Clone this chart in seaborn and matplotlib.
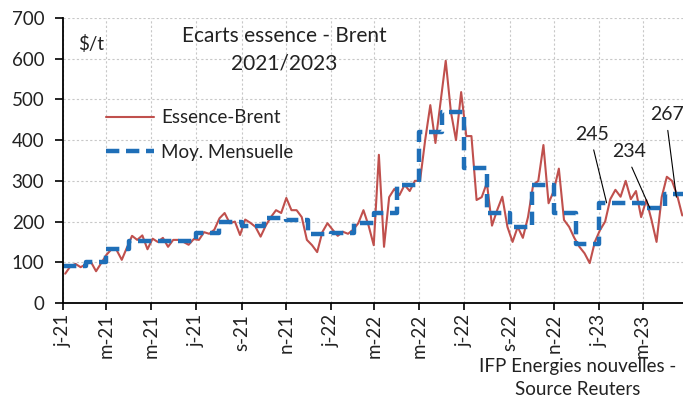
import pandas as pd
import matplotlib
matplotlib.use("Agg")
import matplotlib.pyplot as plt
import matplotlib.dates as mdates
import seaborn as sns

# Ecart essence - Brent ($/t), one value per week (Mondays from 2021-01-04)
spread_2021 = [72, 90, 96, 88,
               95, 101, 78, 98,
               118, 132, 130, 106, 136,
               165, 155, 166, 132,
               158, 150, 160, 138, 155,
               155, 150, 143, 157,
               155, 174, 170, 180,
               208, 221, 196, 200, 167,
               205, 197, 187, 163,
               190, 211, 228, 221,
               258, 228, 228, 211, 155,
               142, 125, 174, 196]
spread_2022 = [180, 165, 175, 170, 180,
               196, 228, 190, 142,
               364, 138, 260, 280,
               265, 290, 275, 300,
               300, 400, 486, 393, 494,
               595, 470, 400, 518,
               410, 410, 253, 260,
               295, 190, 228, 261, 187,
               150, 187, 160, 211,
               290, 300, 388, 245, 275,
               330, 204, 187, 160,
               138, 122, 98, 150]
spread_2023 = [179, 200, 255, 278, 261,
               300, 255, 275, 211,
               253, 205, 150, 260,
               310, 300, 265, 215]

# moyenne mensuelle, janvier 2021 -> avril 2023
monthly_avg = [91, 101, 132, 153, 153, 153, 173, 200, 190, 208, 203, 170,
               172, 197, 221, 290, 420, 470, 331, 222, 187, 290, 222, 146,
               245, 245, 234, 267]

tick_labels = ["j-21", "m-21", "m-21", "j-21", "s-21", "n-21",
               "j-22", "m-22", "m-22", "j-22", "s-22", "n-22",
               "j-23", "m-23"]

spread = spread_2021 + spread_2022 + spread_2023
weeks = pd.date_range("2021-01-04", periods=len(spread), freq="W-MON")
df_d = pd.DataFrame({"date": weeks, "val": spread})

end_date = pd.Timestamp("2023-04-25")
months = list(pd.date_range("2021-01-01", periods=len(monthly_avg), freq="MS"))
df_m = pd.DataFrame({"date": months + [end_date], "val": monthly_avg + [monthly_avg[-1]]})

sns.set_theme(style="white")
plt.rcParams["font.family"] = ["Lato", "DejaVu Sans"]
txt_col = "#222222"

fig = plt.figure(figsize=(6.83, 4.05), dpi=100)
ax = fig.add_axes([63 / 683, 1 - 303 / 405, 620 / 683, 285 / 405])

sns.lineplot(data=df_d, x="date", y="val", ax=ax, color="#C0504D", lw=1.5,
             estimator=None, label="Essence-Brent")
sns.lineplot(data=df_m, x="date", y="val", ax=ax, color="#1F6FB8", lw=3.2,
             estimator=None, drawstyle="steps-post", linestyle=(0, (3, 1.5)),
             label="Moy. Mensuelle")

ax.set_xlim(pd.Timestamp("2021-01-01"), end_date)
ax.set_ylim(0, 700)
ax.set_yticks(range(0, 701, 100))
tick_dates = pd.date_range("2021-01-01", periods=len(tick_labels), freq="2MS")
ax.set_xticks(tick_dates)
ax.set_xticklabels(tick_labels, rotation=90)
ax.set_xlabel("")
ax.set_ylabel("")

ax.grid(True, color="#C8C8C8", lw=0.8, ls=(0, (2, 2)))
for s in ["top", "right"]:
    ax.spines[s].set_visible(False)
for s in ["left", "bottom"]:
    ax.spines[s].set_color("black")
    ax.spines[s].set_linewidth(1.3)
ax.tick_params(axis="y", direction="out", length=5.5, width=1.2, pad=8,
               labelsize=13.5, colors="black", left=True)
ax.tick_params(axis="x", direction="out", length=5, width=1.2, pad=3,
               labelsize=13.5, colors="black", bottom=True)
for lab in ax.get_yticklabels() + ax.get_xticklabels():
    lab.set_color(txt_col)

ax.text(0.357, 0.972, "Ecarts essence - Brent\n2021/2023", transform=ax.transAxes,
        ha="center", va="top", fontsize=15, linespacing=1.45, color=txt_col)
ax.text(0.024, 0.94, "$/t", transform=ax.transAxes, ha="left", va="top",
        fontsize=13.5, color=txt_col)

ax.legend(loc="upper left", bbox_to_anchor=(0.069, 0.68), frameon=False,
          fontsize=13.5, handlelength=2.55, handletextpad=0.4,
          labelspacing=0.95, borderpad=0, borderaxespad=0, labelcolor=txt_col)

ann = dict(arrowstyle="-", color="black", lw=0.8, shrinkA=3, shrinkB=0,
           relpos=(0.5, 0))
notes = [("245", "2023-01-11", 246, "2022-12-22", 415),
         ("234", "2023-03-11", 233, "2023-02-10", 372),
         ("267", "2023-04-16", 260, "2023-04-03", 463)]
for txt, xd, yv, xt, yt in notes:
    ax.annotate(txt, xy=(mdates.date2num(pd.Timestamp(xd)), yv),
                xytext=(mdates.date2num(pd.Timestamp(xt)), yt),
                ha="center", va="center", fontsize=14, color=txt_col,
                arrowprops=ann, annotation_clip=False)

fig.text(578 / 683, 1 - 358 / 405, "IFP Energies nouvelles -\nSource Reuters",
         ha="center", va="top", fontsize=13.5, linespacing=1.4, color=txt_col)

fig.savefig("out.png", dpi=100)
